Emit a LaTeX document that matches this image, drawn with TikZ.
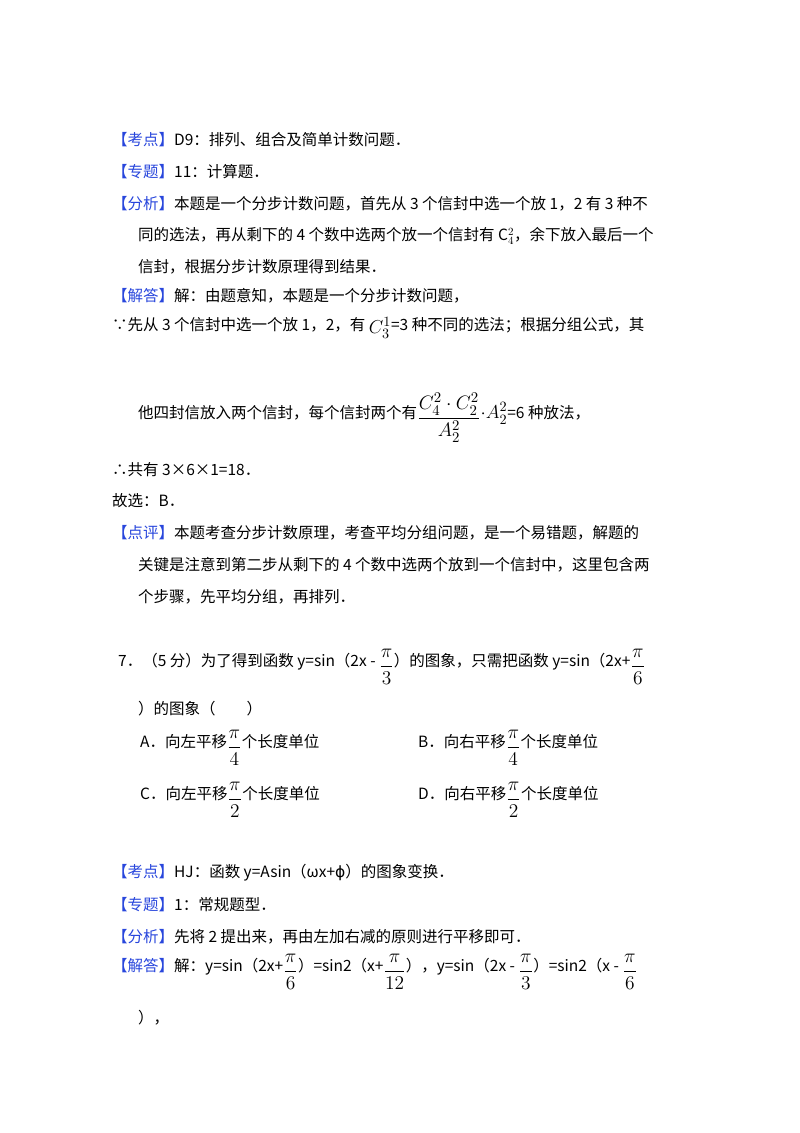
\documentclass[tikz,border=0pt]{standalone}
\usepackage{amsmath}
\usepackage{fontspec}
\setmainfont{Noto Sans CJK SC}
\newfontfamily\djv{DejaVu Sans}
\definecolor{kblue}{RGB}{40,70,220}
\begin{document}
\begin{tikzpicture}[x=1pt,y=-1pt,
  txt/.style={anchor=west,inner sep=0pt,font=\fontsize{15.5}{18}\selectfont}]
\useasboundingbox (0,0) rectangle (800,1133);
\newcommand{\tg}[1]{\textcolor{kblue}{【#1】}}
\newcommand{\fr}[2]{\raisebox{-0.5ex}{\scalebox{1.35}{$\dfrac{#1}{#2}$}}}
\node[txt] (l1) at (112,140) {\tg{考点}D9：排列、组合及简单计数问题．};
\node[txt] (l2) at (112,172) {\tg{专题}11：计算题．};
\node[txt] (l3) at (112,204) {\tg{分析}本题是一个分步计数问题，首先从 3 个信封中选一个放 1，2 有 3 种不};
\node[txt] (l4) at (138,236) {同的选法，再从剩下的 4 个数中选两个放一个信封有 $\mathrm{C}_4^2$，余下放入最后一个};
\node[txt] (l5) at (138,267) {信封，根据分步计数原理得到结果．};
\node[txt] (l6) at (112,296) {\tg{解答}解：由题意知，本题是一个分步计数问题，};
\node[txt] (l7) at (112,328) {∵先从 3 个信封中选一个放 1，2，有 \raisebox{-0.4ex}{\scalebox{1.3}{$C_3^1$}}=3 种不同的选法；根据分组公式，其};
\node[txt] (l8) at (138,418) {他四封信放入两个信封，每个信封两个有\fr{C_4^2\cdot C_2^2}{A_2^2}\scalebox{1.3}{$\cdot A_2^2$}=6 种放法，};
\node[txt] (l9) at (112,470) {∴共有 3×6×1=18．};
\node[txt] (l10) at (112,501) {故选：B．};
\node[txt] (l11) at (112,533) {\tg{点评}本题考查分步计数原理，考查平均分组问题，是一个易错题，解题的};
\node[txt] (l12) at (138,565) {关键是注意到第二步从剩下的 4 个数中选两个放到一个信封中，这里包含两};
\node[txt] (l13) at (138,597) {个步骤，先平均分组，再排列．};
\node[txt] (q1) at (118,667) {7．（5 分）为了得到函数 y=sin（2x - \fr{\pi}{3}）的图象，只需把函数 y=sin（2x+\fr{\pi}{6}};
\node[txt] (q2) at (138,709) {）的图象（\quad\quad）};
\node[txt] (qa) at (140,748) {A．向左平移\fr{\pi}{4}个长度单位};
\node[txt] (qb) at (418,748) {B．向右平移\fr{\pi}{4}个长度单位};
\node[txt] (qc) at (140,800) {C．向左平移\fr{\pi}{2}个长度单位};
\node[txt] (qd) at (418,800) {D．向右平移\fr{\pi}{2}个长度单位};
\node[txt] (m1) at (112,873) {\tg{考点}HJ：函数 y=Asin（ωx+{\djv ϕ}）的图象变换．};
\node[txt] (m2) at (112,905) {\tg{专题}1：常规题型．};
\node[txt] (m3) at (112,937) {\tg{分析}先将 2 提出来，再由左加右减的原则进行平移即可．};
\node[txt] (m4) at (112,972) {\tg{解答}解：y=sin（2x+\fr{\pi}{6}）=sin2（x+\fr{\pi}{12}），y=sin（2x - \fr{\pi}{3}）=sin2（x - \fr{\pi}{6}};
\node[txt] (m5) at (138,1018) {），};
\end{tikzpicture}
\end{document}
